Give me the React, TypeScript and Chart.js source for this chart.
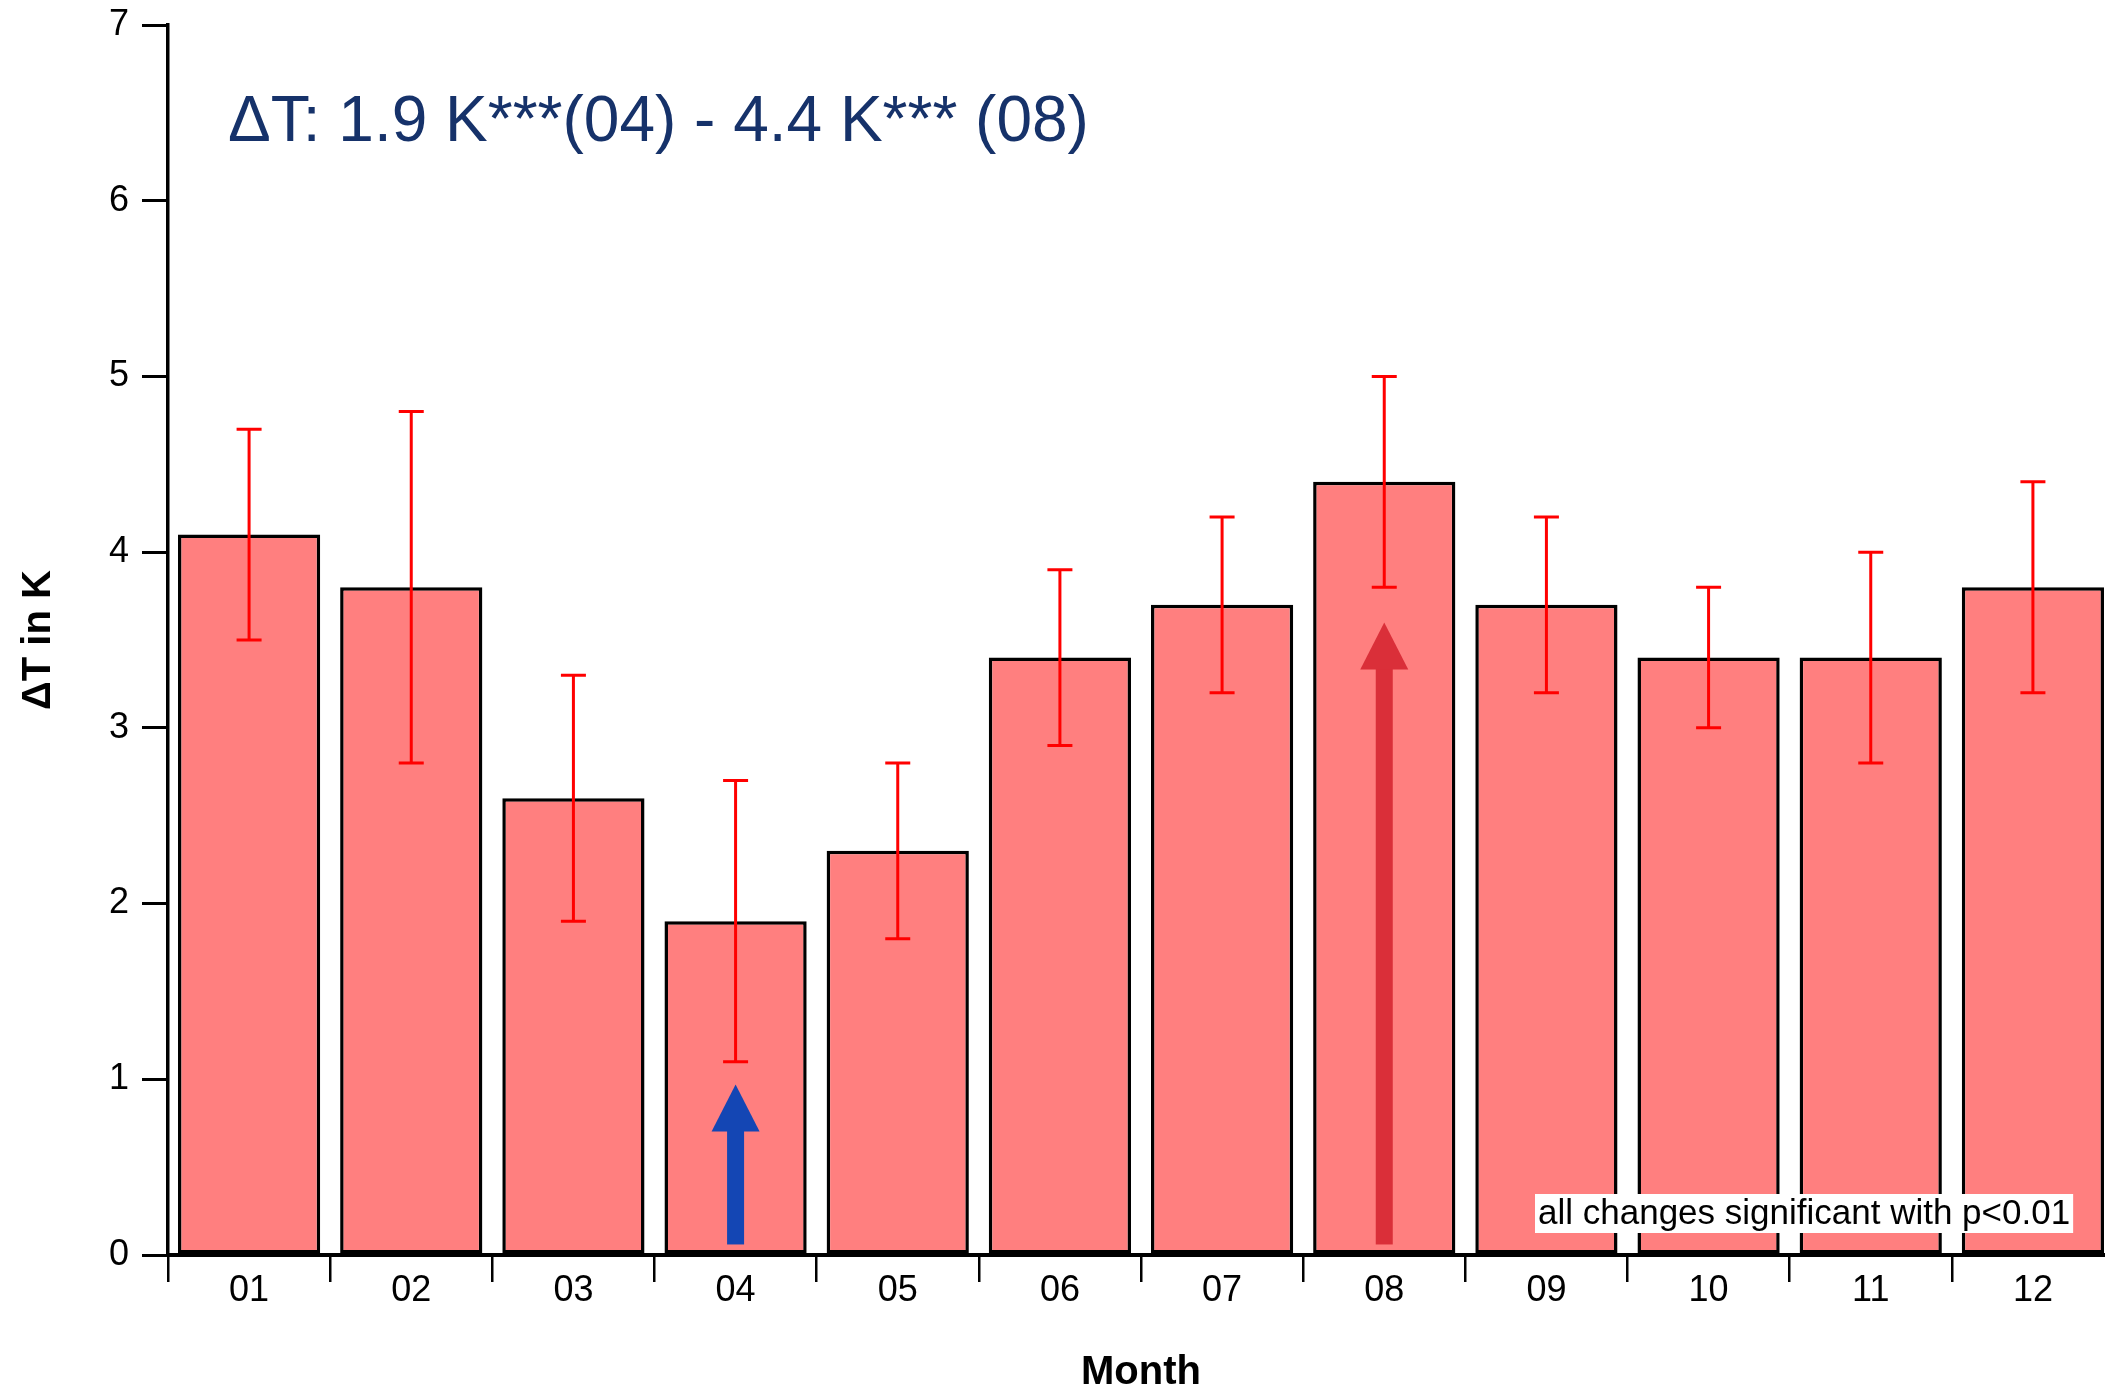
import React, { useEffect, useRef } from "react";
import { Chart, registerables } from "chart.js";

Chart.register(...registerables);

// Monthly temperature change with error ranges
const months = ["01", "02", "03", "04", "05", "06", "07", "08", "09", "10", "11", "12"];
const deltaT = [4.1, 3.8, 2.6, 1.9, 2.3, 3.4, 3.7, 4.4, 3.7, 3.4, 3.4, 3.8];
const errLow = [3.5, 2.8, 1.9, 1.1, 1.8, 2.9, 3.2, 3.8, 3.2, 3.0, 2.8, 3.2];
const errHigh = [4.7, 4.8, 3.3, 2.7, 2.8, 3.9, 4.2, 5.0, 4.2, 3.8, 4.0, 4.4];
const yTicks = [0, 1, 2, 3, 4, 5, 6, 7];

// Highlight arrows (month, start value, tip value, colour)
const arrowMonths = ["04", "08"];
const arrowFrom = [0.06, 0.06];
const arrowTo = [0.97, 3.6];
const arrowColors = ["#1446B4", "#DA2F39"];

const noteText = "all changes significant with p<0.01";

const FONT = "'Liberation Sans', Arial, sans-serif";

const iMin = deltaT.indexOf(Math.min(...deltaT));
const iMax = deltaT.indexOf(Math.max(...deltaT));
const headline = `ΔT: ${deltaT[iMin].toFixed(1)} K***(${months[iMin]}) - ${deltaT[iMax].toFixed(1)} K*** (${months[iMax]})`;

const overlayPlugin = {
  id: "overlay",
  afterDatasetsDraw(chart: any) {
    const { ctx, scales } = chart;
    const x = scales.x;
    const y = scales.y;
    ctx.save();

    // arrows
    arrowMonths.forEach((m, k) => {
      const cx = x.getPixelForValue(months.indexOf(m));
      const y0 = y.getPixelForValue(arrowFrom[k]);
      const y1 = y.getPixelForValue(arrowTo[k]);
      const shaft = 17;
      const headW = 48;
      const headL = 47;
      ctx.fillStyle = arrowColors[k];
      ctx.fillRect(cx - shaft / 2, y1 + headL - 1, shaft, y0 - (y1 + headL - 1));
      ctx.beginPath();
      ctx.moveTo(cx - headW / 2, y1 + headL);
      ctx.lineTo(cx + headW / 2, y1 + headL);
      ctx.lineTo(cx, y1);
      ctx.closePath();
      ctx.fill();
    });

    // error bars
    ctx.strokeStyle = "#FF0000";
    ctx.lineWidth = 3;
    const cap = 25;
    months.forEach((_, i) => {
      const cx = x.getPixelForValue(i);
      const lo = y.getPixelForValue(errLow[i]);
      const hi = y.getPixelForValue(errHigh[i]);
      ctx.beginPath();
      ctx.moveTo(cx, lo);
      ctx.lineTo(cx, hi);
      ctx.moveTo(cx - cap / 2, lo);
      ctx.lineTo(cx + cap / 2, lo);
      ctx.moveTo(cx - cap / 2, hi);
      ctx.lineTo(cx + cap / 2, hi);
      ctx.stroke();
    });

    // significance note
    ctx.font = `35px ${FONT}`;
    const tw = ctx.measureText(noteText).width;
    const bx = 1535;
    const by = 1194;
    const bh = 39;
    ctx.fillStyle = "#FFFFFF";
    ctx.fillRect(bx, by, tw + 6, bh);
    ctx.fillStyle = "#000000";
    ctx.textBaseline = "middle";
    ctx.textAlign = "left";
    ctx.fillText(noteText, bx + 3, by + bh / 2 + 1);
    ctx.restore();
  },
  afterDraw(chart: any) {
    const { ctx } = chart;
    ctx.save();
    ctx.font = `64px ${FONT}`;
    ctx.fillStyle = "#16326A";
    ctx.textBaseline = "alphabetic";
    ctx.textAlign = "left";
    ctx.fillText(headline, 228, 141);
    ctx.restore();
  },
};

export default function App() {
  const canvasRef = useRef<HTMLCanvasElement | null>(null);

  useEffect(() => {
    const canvas = canvasRef.current;
    if (!canvas) return;
    Chart.defaults.font.family = FONT;
    const chart = new Chart(canvas, {
      type: "bar",
      data: {
        labels: months,
        datasets: [
          {
            data: deltaT,
            backgroundColor: "#FF7F7F",
            borderColor: "#000000",
            borderWidth: 3.5,
            borderSkipped: false,
            barPercentage: 0.877,
            categoryPercentage: 1,
          },
        ],
      },
      options: {
        responsive: false,
        animation: false,
        devicePixelRatio: 1,
        layout: { padding: { top: 25, right: 11, left: 0, bottom: 0 } },
        plugins: {
          legend: { display: false },
          tooltip: { enabled: false },
          title: { display: false },
        },
        scales: {
          x: {
            offset: true,
            grid: {
              offset: true,
              display: true,
              drawOnChartArea: false,
              drawTicks: true,
              tickLength: 27,
              lineWidth: 2.5,
              color: "#000000",
            },
            border: { display: true, color: "#000000", width: 4 },
            ticks: {
              color: "#000000",
              font: { size: 36, family: FONT, lineHeight: 1 },
              padding: -9,
              maxRotation: 0,
              autoSkip: false,
            },
            title: {
              display: true,
              text: "Month",
              color: "#000000",
              font: { size: 40, weight: "bold", family: FONT, lineHeight: 0.75 },
              padding: { top: 0, bottom: 0 },
            },
            afterFit(scale: any) {
              scale.height = 133;
            },
          },
          y: {
            min: 0,
            max: 7,
            afterBuildTicks(scale: any) {
              scale.ticks = yTicks.map((v) => ({ value: v }));
            },
            grid: {
              display: true,
              drawOnChartArea: false,
              drawTicks: true,
              tickLength: 26,
              lineWidth: 3,
              color: "#000000",
            },
            border: { display: true, color: "#000000", width: 3.5 },
            ticks: {
              color: "#000000",
              font: { size: 36, family: FONT, lineHeight: 0.5 },
              padding: 13,
            },
            title: {
              display: true,
              text: "ΔT in K",
              color: "#000000",
              font: { size: 40, weight: "bold", family: FONT, lineHeight: 1.2 },
              padding: { top: 15, bottom: 0 },
            },
            afterFit(scale: any) {
              scale.width = 168;
            },
          },
        },
      },
      plugins: [overlayPlugin],
    });
    return () => chart.destroy();
  }, []);

  return (
    <div
      style={{
        position: "fixed",
        left: 0,
        top: 0,
        width: 2105,
        height: 1388,
        overflow: "hidden",
        background: "#FFFFFF",
      }}
    >
      <canvas ref={canvasRef} width={2125} height={1388} style={{ display: "block" }} />
    </div>
  );
}
